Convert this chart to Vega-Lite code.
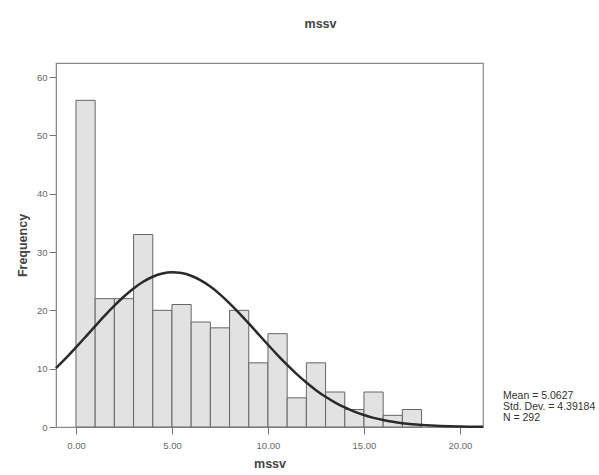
{
  "$schema": "https://vega.github.io/schema/vega-lite/v6.json",
  "width": 427,
  "height": 364,
  "autosize": {"type": "none"},
  "padding": {"left": 56, "top": 63, "right": 116, "bottom": 48},
  "background": "white",
  "title": {"text": "mssv", "font": "Liberation Sans", "fontSize": 12.5, "fontWeight": "bold", "color": "#444", "anchor": "middle", "dx": 51, "offset": 33},
  "config": {
    "view": {"stroke": "#8a8a8a", "strokeWidth": 1.2},
    "font": "Liberation Sans",
    "axis": {"grid": false, "labelFont": "Liberation Sans", "titleFont": "Liberation Sans", "labelColor": "#666", "labelFontSize": 9.5, "titleColor": "#444", "titleFontSize": 12.5, "titleFontWeight": "bold", "domainColor": "#8a8a8a", "tickColor": "#777", "tickSize": 7}
  },
  "datasets": {
    "bins": [
      {"bin_start": 0, "bin_end": 1, "count": 56},
      {"bin_start": 1, "bin_end": 2, "count": 22},
      {"bin_start": 2, "bin_end": 3, "count": 22},
      {"bin_start": 3, "bin_end": 4, "count": 33},
      {"bin_start": 4, "bin_end": 5, "count": 20},
      {"bin_start": 5, "bin_end": 6, "count": 21},
      {"bin_start": 6, "bin_end": 7, "count": 18},
      {"bin_start": 7, "bin_end": 8, "count": 17},
      {"bin_start": 8, "bin_end": 9, "count": 20},
      {"bin_start": 9, "bin_end": 10, "count": 11},
      {"bin_start": 10, "bin_end": 11, "count": 16},
      {"bin_start": 11, "bin_end": 12, "count": 5},
      {"bin_start": 12, "bin_end": 13, "count": 11},
      {"bin_start": 13, "bin_end": 14, "count": 6},
      {"bin_start": 14, "bin_end": 15, "count": 3},
      {"bin_start": 15, "bin_end": 16, "count": 6},
      {"bin_start": 16, "bin_end": 17, "count": 2},
      {"bin_start": 17, "bin_end": 18, "count": 3}
    ],
    "curve": [
      {"v": -1.04, "f": 10.10}, {"v": -0.5, "f": 11.89}, {"v": 0, "f": 13.65}, {"v": 0.5, "f": 15.46},
      {"v": 1, "f": 17.29}, {"v": 1.5, "f": 19.09}, {"v": 2, "f": 20.80}, {"v": 2.5, "f": 22.37},
      {"v": 3, "f": 23.75}, {"v": 3.5, "f": 24.90}, {"v": 4, "f": 25.76}, {"v": 4.5, "f": 26.31},
      {"v": 5, "f": 26.52}, {"v": 5.5, "f": 26.39}, {"v": 6, "f": 25.93}, {"v": 6.5, "f": 25.14},
      {"v": 7, "f": 24.07}, {"v": 7.5, "f": 22.74}, {"v": 8, "f": 21.21}, {"v": 8.5, "f": 19.53},
      {"v": 9, "f": 17.75}, {"v": 9.5, "f": 15.92}, {"v": 10, "f": 14.10}, {"v": 10.5, "f": 12.33},
      {"v": 11, "f": 10.64}, {"v": 11.5, "f": 9.06}, {"v": 12, "f": 7.62}, {"v": 12.5, "f": 6.32},
      {"v": 13, "f": 5.18}, {"v": 13.5, "f": 4.19}, {"v": 14, "f": 3.35}, {"v": 14.5, "f": 2.64},
      {"v": 15, "f": 2.05}, {"v": 15.5, "f": 1.57}, {"v": 16, "f": 1.19}, {"v": 16.5, "f": 0.89},
      {"v": 17, "f": 0.66}, {"v": 17.5, "f": 0.48}, {"v": 18, "f": 0.35}, {"v": 18.5, "f": 0.25},
      {"v": 19, "f": 0.17}, {"v": 19.5, "f": 0.12}, {"v": 20, "f": 0.08}, {"v": 20.5, "f": 0.055},
      {"v": 21, "f": 0.037}, {"v": 21.2, "f": 0.03}
    ]
  },
  "layer": [
    {
      "data": {"name": "bins"},
      "mark": {"type": "rect", "fill": "#e2e2e2", "stroke": "#666", "strokeWidth": 1},
      "encoding": {
        "x": {"field": "bin_start", "type": "quantitative", "scale": {"domain": [-1.04, 21.2], "nice": false, "zero": false},
              "axis": {"values": [0, 5, 10, 15, 20], "format": ".2f", "title": "mssv", "labelPadding": 6, "titlePadding": 8}},
        "x2": {"field": "bin_end"},
        "y": {"field": "count", "type": "quantitative", "scale": {"domain": [0, 62.4], "nice": false},
              "axis": {"values": [0, 10, 20, 30, 40, 50, 60], "title": "Frequency", "labelPadding": 2, "titlePadding": 7}},
        "y2": {"datum": 0}
      }
    },
    {
      "data": {"name": "curve"},
      "mark": {"type": "line", "color": "#2a2a2a", "strokeWidth": 2.5, "interpolate": "monotone"},
      "encoding": {
        "x": {"field": "v", "type": "quantitative"},
        "y": {"field": "f", "type": "quantitative"}
      }
    },
    {
      "data": {"values": [{}]},
      "mark": {"type": "text", "text": ["Mean = 5.0627", "Std. Dev. = 4.39184", "N = 292"], "align": "left", "baseline": "top", "fontSize": 10.5, "lineHeight": 11, "color": "#333", "font": "Liberation Sans"},
      "encoding": {
        "x": {"datum": 22.24, "type": "quantitative"},
        "y": {"datum": 6.1, "type": "quantitative"}
      }
    }
  ]
}
